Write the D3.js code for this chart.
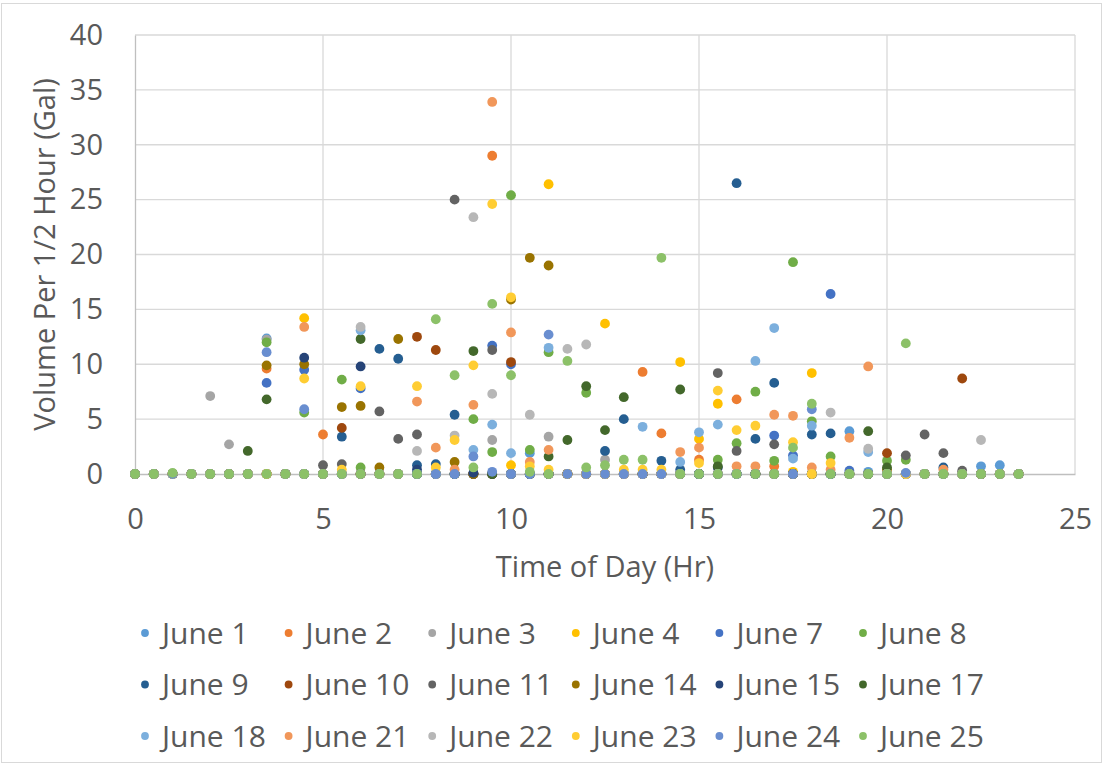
<!DOCTYPE html>
<html><head><meta charset="utf-8">
<script src="https://cdn.jsdelivr.net/npm/d3@7"></script>
<style>
html,body{margin:0;padding:0;background:#fff;}
svg{display:block;font-family:"Open Sans",sans-serif;}
</style></head>
<body><svg id="c" width="1104" height="765"></svg>
<script>
// Time of day (hr), half-hour steps
const times = [0,0.5,1,1.5,2,2.5,3,3.5,4,4.5,5,5.5,6,6.5,7,7.5,8,8.5,9,9.5,10,10.5,11,11.5,12,12.5,13,13.5,14,14.5,15,15.5,16,16.5,17,17.5,18,18.5,19,19.5,20,20.5,21,21.5,22,22.5,23,23.5];
const seriesNames = ["June 1","June 2","June 3","June 4","June 7","June 8","June 9","June 10","June 11","June 14","June 15","June 17","June 18","June 21","June 22","June 23","June 24","June 25"];
const seriesColors = ["#5B9BD5","#ED7D31","#A5A5A5","#FFC000","#4472C4","#70AD47","#255E91","#9E480E","#636363","#997300","#264478","#43682B","#7CAFDD","#F1975A","#B7B7B7","#FFCD33","#698ED0","#8CC168"];
const xTicks = [0,5,10,15,20,25];
const yTicks = [0,5,10,15,20,25,30,35,40];

// Volume per half hour (gal), one value per entry of times
const june1  = [0,0,0,0,0,0,0,12.35,0,0,0,0,0,0,0,0,0,0,0,0,0,1.9,0,0,0,0,0,0,0,0,0,0,0,0,0,0,0,0,3.9,0.2,0,0,0,0,0,0.7,0.8,0];
const june2  = [0,0,0,0,0,0,0,9.6,0,0,3.6,0,0,0,0,0,0,0,0,29.0,0,0,0,0,0,0,0,9.3,3.7,0,1.3,0,6.8,0,0.7,0,0,0,0,0,0,0,0,0,0,0,0,0];
const june3  = [0,0,0,0,7.1,2.7,0,12.25,0,0,0,0,0,0,0,0,0,0,0,3.1,0,0,3.4,0,0,1.3,0,0,0,0,0,0,0,0,0,0,0,0,0,0,0,0,0,0,0,0,0,0];
const june4  = [0,0,0,0,0,0,0,0,0,14.2,0,0,0,0,0,0,0,0,0,0,0.8,0,26.4,0,0,13.7,0,0,0,10.2,3.2,6.4,0,0,0,0.2,9.2,0,0,0,0,0,0,0,0,0,0,0];
const june7  = [0,0,0,0,0,0,0,8.3,0,9.5,0,0,7.8,0,0,0,0,0,0,11.7,10.0,0,0,0,0,0,0,0,0,0,0,0,0,0,3.5,1.7,0,16.4,0.3,0,0,0,0,0,0,0,0,0];
const june8  = [0,0,0,0,0,0,0,12.0,0,5.6,0,8.6,0.6,0,0,0,0,0,5.0,2.0,25.4,2.2,11.1,0,7.4,0,0,0,0,0,0,1.3,2.8,7.5,1.2,19.3,4.8,1.6,0,0,1.2,1.3,0,0,0,0,0,0];
const june9  = [0,0,0,0,0,0,0,0,0,0,0,3.4,0,11.4,10.5,0.8,0.9,5.4,0,0,0,0,0,0,0,2.1,5.0,0,1.2,0.4,0,0,26.5,3.2,8.3,0,3.6,3.7,0,0,0,0,0,0.6,0,0,0,0];
const june10 = [0,0,0,0,0,0,0,0,0,0,0,4.2,0,0,0,12.5,11.3,0,0,0,10.2,0,0,0,0,0,0,0,0,0,0,0,0,0,0,0,0,0,0,0,1.9,0,0,0,8.7,0,0,0];
const june11 = [0,0,0,0,0,0,0,0,0,0,0.8,0.9,0,5.7,3.2,3.6,0,25.0,0,11.3,0,0,0,0,0,0,0,0,0,0,0,9.2,2.1,0,2.7,0,0,0,0,0,0,1.7,3.6,1.9,0.3,0,0,0];
const june14 = [0,0,0,0,0,0,0,9.9,0,10.0,0,6.1,6.2,0.6,12.3,0,0,1.1,0,0,15.9,19.7,19.0,0,0,0,0,0,0,0,0,0,0,0,0,0,0,0,0,0,0.4,0,0,0,0,0,0,0];
const june15 = [0,0,0,0,0,0,0,0,0,10.6,0,0,9.8,0,0,0.4,0,0,0.1,0,0,0,0,0,0,0,0,0,0,0,0,0.6,0,0,0,0,0,0,0,0,0,0,0,0,0,0,0,0];
const june17 = [0,0,0,0,0,0,2.1,6.8,0,0,0,0,12.3,0,0,0,0,0,11.2,0,0,0,1.6,3.1,8.0,4.0,7.0,0,0,7.7,0,0.7,0,0,0,0,0,0,0,3.9,0.6,0,0,0,0,0,0,0];
const june18 = [0,0,0,0,0,0,0,0,0,0,0,0,13.1,0,0,0,0,0,2.2,4.5,1.9,0,11.5,0,0,0,0,4.3,0,1.1,3.8,4.5,0,10.3,13.3,1.4,4.4,0,0,2.0,0,0,0,0,0,0,0,0];
const june21 = [0,0,0,0,0,0,0,0,0,13.4,0,0,0,0,0,6.6,2.4,0.4,6.3,33.9,12.9,1.1,2.2,0,0,0,0,0,0,2.0,2.4,0,0.7,0.7,5.4,5.3,0.6,0.4,3.3,9.8,0,0,0,0.4,0,0,0,0];
const june22 = [0,0,0,0,0,0,0,0,0,0,0,0,13.4,0,0,2.1,0,3.5,23.4,7.3,0,5.4,0,11.4,11.8,0,0,0,0,0,0,0,0,0,0,0,0,5.6,0,2.3,0,0,0,0,0,3.1,0,0];
const june23 = [0,0,0,0,0,0,0,0,0,8.7,0,0.4,8.0,0,0,8.0,0.6,3.1,9.9,24.6,16.1,0.7,0.4,0,0,0,0.4,0.4,0.4,0,1.0,7.6,4.0,4.4,0,2.9,0,1.0,0,0,0,0,0,0,0,0,0,0];
const june24 = [0,0,0,0,0,0,0,11.1,0,5.9,0,0,0,0,0,0,0,0,1.6,0.2,0,0,12.7,0,0,0,0,0,0,0,0,0,0,0,0,0,5.9,0,0,0,0,0.1,0,0,0,0,0,0];
const june25 = [0,0,0.1,0,0,0,0,0,0,0,0,0,0,0,0,0,14.1,9.0,0.6,15.5,9.0,0.2,0,10.3,0.6,0.8,1.3,1.3,19.7,0,0,0,0,0,0,2.4,6.4,0,0,0,0,11.9,0,0,0,0,0,0];

const seriesValues = [june1,june2,june3,june4,june7,june8,june9,june10,june11,june14,june15,june17,june18,june21,june22,june23,june24,june25];

const svg = d3.select("#c");
const plot = {left:135, right:1075, top:35, bottom:474};
const textColor = "#595959";
const gridColor = "#D9D9D9";
const fontSize = "29px";

svg.append("rect").attr("x",1.5).attr("y",3.5).attr("width",1100).attr("height",759)
  .attr("fill","#fff").attr("stroke","#D9D9D9").attr("stroke-width",1);

const x = d3.scaleLinear().domain([0,25]).range([plot.left, plot.right]);
const y = d3.scaleLinear().domain([0,40]).range([plot.bottom, plot.top]);

// gridlines
svg.append("g").selectAll("line").data(yTicks.filter(d=>d>0)).join("line")
  .attr("x1",plot.left).attr("x2",plot.right)
  .attr("y1",d=>y(d)).attr("y2",d=>y(d))
  .attr("stroke",gridColor).attr("stroke-width",1.3);
svg.append("g").selectAll("line").data(xTicks.filter(d=>d>0)).join("line")
  .attr("x1",d=>x(d)).attr("x2",d=>x(d))
  .attr("y1",plot.top).attr("y2",plot.bottom)
  .attr("stroke",gridColor).attr("stroke-width",1.3);

// axes
const xAxis = d3.axisBottom(x).tickValues(xTicks).tickSize(0).tickPadding(34);
const gx = svg.append("g").attr("transform",`translate(0,${plot.bottom})`).call(xAxis);
gx.select(".domain").attr("stroke","#BFBFBF").attr("stroke-width",1.3);
gx.selectAll("text").attr("fill",textColor).style("font-size",fontSize).style("font-family","'Open Sans',sans-serif");

const yAxis = d3.axisLeft(y).tickValues(yTicks).tickSize(0).tickPadding(32);
const gy = svg.append("g").attr("transform",`translate(${plot.left},0)`).call(yAxis);
gy.select(".domain").attr("stroke","#BFBFBF").attr("stroke-width",1.3);
gy.selectAll("text").attr("fill",textColor).style("font-size",fontSize).style("font-family","'Open Sans',sans-serif");

// axis titles
svg.append("text").attr("x",(plot.left+plot.right)/2).attr("y",577)
  .attr("text-anchor","middle").attr("fill",textColor).style("font-size",fontSize)
  .text("Time of Day (Hr)");
svg.append("text").attr("transform",`translate(55,${(plot.top+plot.bottom)/2}) rotate(-90)`)
  .attr("text-anchor","middle").attr("fill",textColor).style("font-size",fontSize)
  .text("Volume Per 1/2 Hour (Gal)");

// points
const gp = svg.append("g");
seriesValues.forEach((vals,i)=>{
  gp.append("g").selectAll("circle").data(vals.map((v,j)=>({t:times[j],v}))).join("circle")
    .attr("cx",d=>x(d.t)).attr("cy",d=>y(d.v)).attr("r",4.9)
    .attr("fill",seriesColors[i]);
});

// legend
const legX = d3.scalePoint().domain(d3.range(6)).range([145,863]);
const legY = d3.scalePoint().domain(d3.range(3)).range([633,736]);
const lg = svg.append("g");
seriesNames.forEach((name,i)=>{
  const col = i%6, row = Math.floor(i/6);
  const g = lg.append("g").attr("transform",`translate(${legX(col)},${legY(row)})`);
  g.append("circle").attr("r",3.9).attr("fill",seriesColors[i]);
  g.append("text").attr("x",17).attr("y",0).attr("dy","0.35em")
    .attr("fill",textColor).style("font-size","30px").text(name);
});
</script>
</body></html>
